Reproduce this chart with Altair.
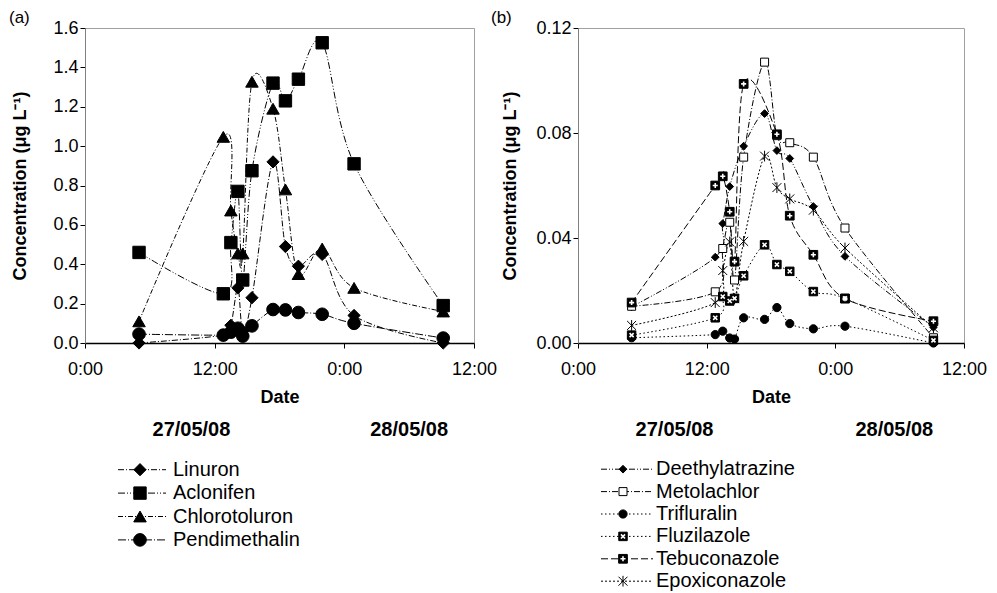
import altair as alt
import pandas as pd

# ---------------- data ----------------
hours = [5.0, 12.8, 13.5, 14.15, 14.6, 15.45, 17.4, 18.55, 19.75, 21.95, 24.9, 33.15]

names_a = ["Linuron", "Aclonifen", "Chlorotoluron", "Pendimethalin"]
linuron = [0.00, 0.04, 0.09, 0.28, 0.06, 0.23, 0.92, 0.49, 0.39, 0.45, 0.14, 0.00]
aclonifen = [0.46, 0.25, 0.51, 0.77, 0.32, 0.875, 1.32, 1.23, 1.34, 1.525, 0.91, 0.19]
chlorotoluron = [0.11, 1.047, 0.673, 0.455, 0.455, 1.327, 1.19, 0.78, 0.35, 0.48, 0.28, 0.16]
pendimethalin = [0.045, 0.04, 0.055, 0.075, 0.035, 0.087, 0.17, 0.168, 0.155, 0.146, 0.10, 0.025]

names_b = ["Deethylatrazine", "Metolachlor", "Trifluralin", "Fluzilazole", "Tebuconazole", "Epoxiconazole"]
deethylatrazine = [0.0138, 0.0327, 0.0455, 0.0596, None, 0.075, 0.0874, 0.0733, 0.0703, 0.052, 0.033, 0.006]
metolachlor = [0.014, 0.0195, 0.036, 0.046, 0.024, 0.0708, 0.107, 0.079, 0.0763, 0.0708, 0.0438, 0.002]
trifluralin = [0.002, 0.0032, 0.0045, 0.0019, 0.0015, 0.0096, 0.009, 0.0135, 0.0074, 0.0054, 0.0064, 0.0]
fluzilazole = [0.003, 0.0096, 0.0177, 0.016, 0.017, 0.0256, 0.0374, 0.0299, 0.0273, 0.0196, 0.017, 0.001]
tebuconazole = [0.0154, 0.060, 0.0635, 0.050, 0.031, 0.0987, None, 0.0795, 0.0485, 0.0336, 0.0169, 0.0083]
epoxiconazole = [0.0067, 0.0154, 0.0276, 0.0385, 0.0169, 0.0387, 0.0712, 0.0592, 0.0549, 0.0506, 0.0362, 0.0058]

date_labels = ["27/05/08", "28/05/08"]
date_hours_a = [9.85, 30.0]
date_hours_b = [9.0, 29.5]

yticks_a = [0.0, 0.2, 0.4, 0.6, 0.8, 1.0, 1.2, 1.4, 1.6]
yticks_b = [0.00, 0.04, 0.08, 0.12]
xticks = [0, 12, 24, 36]


def long_df(names, lists):
    rows = []
    for n, vals in zip(names, lists):
        for h, v in zip(hours, vals):
            if v is not None:
                rows.append({"series": n, "hour": h, "value": v})
    return pd.DataFrame(rows)


df_a = long_df(names_a, [linuron, aclonifen, chlorotoluron, pendimethalin])
df_b = long_df(names_b, [deethylatrazine, metolachlor, trifluralin, fluzilazole, tebuconazole, epoxiconazole])

# ---------------- styles ----------------
FONT = "Liberation Sans"
ASTER = "M-1,-1L1,1M-1,1L1,-1M0,-1.2L0,1.2"
PLUS = "M-0.8,0L0.8,0M0,-0.8L0,0.8"
XMARK = "M-0.65,-0.65L0.65,0.65M-0.65,0.65L0.65,-0.65"

style_a = dict(
    dashes=[[6, 2, 1, 2], [7, 2, 1, 2, 1, 2], [5, 2, 1, 2], [8, 2, 1, 2]],
    shapes=["diamond", "square", "triangle-up", "circle"],
    fills=["black", "black", "black", "black"],
    sizes=[150, 160, 150, 120],
)
style_b = dict(
    dashes=[[6, 2, 1, 2, 1, 2], [6, 2, 1, 2], [1.5, 2.5], [1.5, 2.5], [7, 3], [2, 2]],
    shapes=["diamond", "square", "circle", "square", "square", ASTER],
    fills=["black", "white", "black", "black", "black", "black"],
    sizes=[60, 80, 75, 100, 100, 60],
)


def scales(names, st):
    dash = alt.StrokeDash("series:N", scale=alt.Scale(domain=names, range=st["dashes"]), legend=None)
    shape = alt.Shape("series:N", scale=alt.Scale(domain=names, range=st["shapes"]), legend=None)
    fill = alt.Fill("series:N", scale=alt.Scale(domain=names, range=st["fills"]), legend=None)
    size = alt.Size("series:N", scale=alt.Scale(domain=names, range=st["sizes"]), legend=None)
    return dash, shape, fill, size


def panel(df, names, st, ymax, yticks, yfmt, width, height, tag, date_hours, title_pad, tag_x, overlays):
    dash, shape, fill, size = scales(names, st)
    X = alt.X("hour:Q", scale=alt.Scale(domain=[0, 36], nice=False),
              axis=alt.Axis(values=xticks, labelExpr="datum.value % 24 == 0 ? '0:00' : '12:00'",
                            title="Date", grid=False, tickSize=5, labelPadding=12, titlePadding=10,
                            labelFlush=False, domainColor="black", tickColor="black", domainWidth=1.3))
    Y = alt.Y("value:Q", scale=alt.Scale(domain=[0, ymax], nice=False),
              axis=alt.Axis(values=yticks, format=yfmt, title="Concentration (\u03bcg L\u207b\u00b9)",
                            grid=False, tickSize=5, titlePadding=title_pad, labelOverlap=False,
                            tickCount=len(yticks), domainColor="#808080", tickColor="black"))
    lines = alt.Chart(df).mark_line(interpolate="cardinal", strokeWidth=1, color="black", clip=True).encode(
        x=X, y=Y, strokeDash=dash, detail="series:N")
    pts = alt.Chart(df).mark_point(filled=True, stroke="black", strokeWidth=1, opacity=1).encode(
        x=X, y=Y, shape=shape, fill=fill, size=size)
    layers = [lines, pts]
    for nm, path in overlays:
        layers.append(alt.Chart(df[df.series == nm]).mark_point(
            shape=path, filled=False, stroke="white", strokeWidth=1.6, size=40, opacity=1).encode(
            x=X, y=Y))
    ddf = pd.DataFrame({"hour": date_hours, "label": date_labels})
    dates = alt.Chart(ddf).mark_text(fontSize=20, fontWeight="bold", font=FONT, baseline="middle").encode(
        x=X, y=alt.value(height + 87), text="label:N")
    tdf = pd.DataFrame({"label": [tag]})
    tagm = alt.Chart(tdf).mark_text(fontSize=17, font=FONT, align="left", baseline="middle").encode(
        x=alt.value(tag_x), y=alt.value(-10), text="label:N")
    layers += [dates, tagm]
    return alt.layer(*layers).properties(width=width, height=height)


def legend(names, st, width, step, x0, x1, xm, xt, overlays):
    dash, shape, fill, size = scales(names, st)
    ldf = pd.DataFrame({"series": names, "row": list(range(len(names)))})
    Yr = alt.Y("row:O", axis=None)
    rule = alt.Chart(ldf).mark_rule(strokeWidth=1, color="black").encode(
        x=alt.value(x0), x2=alt.value(x1), y=Yr, strokeDash=dash)
    pts = alt.Chart(ldf).mark_point(filled=True, stroke="black", strokeWidth=1, opacity=1).encode(
        x=alt.value(xm), y=Yr, shape=shape, fill=fill, size=size)
    layers = [rule, pts]
    for nm, path in overlays:
        layers.append(alt.Chart(ldf[ldf.series == nm]).mark_point(
            shape=path, filled=False, stroke="white", strokeWidth=1.6, size=40, opacity=1).encode(
            x=alt.value(xm), y=Yr))
    txt = alt.Chart(ldf).mark_text(fontSize=20, font=FONT, align="left", baseline="middle").encode(
        x=alt.value(xt), y=Yr, text="series:N")
    layers.append(txt)
    return alt.layer(*layers).properties(width=width, height=step * len(names),
                                         view=alt.ViewBackground(stroke="transparent"))


ov_b = [("Fluzilazole", XMARK), ("Tebuconazole", PLUS)]

pa = panel(df_a, names_a, style_a, 1.6, yticks_a, ".1f", 389, 315, "(a)", date_hours_a, 23, -76, [])
pb = panel(df_b, names_b, style_b, 0.12, yticks_b, ".2f", 386, 315, "(b)", date_hours_b, 16, -87, ov_b)
la = legend(names_a, style_a, 389, 23.4, 33, 81, 55, 88, [])
lb = legend(names_b, style_b, 386, 22.4, 23, 75, 45, 78, ov_b)

chart = alt.concat(pa, pb, la, lb, columns=2, bounds="flush",
                   spacing={"row": 115, "column": 104}).resolve_scale(
    shape="independent", fill="independent", size="independent", strokeDash="independent"
).properties(
    padding={"left": 0, "top": 0, "right": 0, "bottom": 0}
).configure(font=FONT).configure_view(stroke="#a0a0a0").configure_axis(
    labelFont=FONT, titleFont=FONT, labelFontSize=18, titleFontSize=18,
    titleFontWeight="bold", labelColor="black", titleColor="black", labelOverlap=False
)

chart.save("out.html", embed_options={"renderer": "svg", "actions": False})
